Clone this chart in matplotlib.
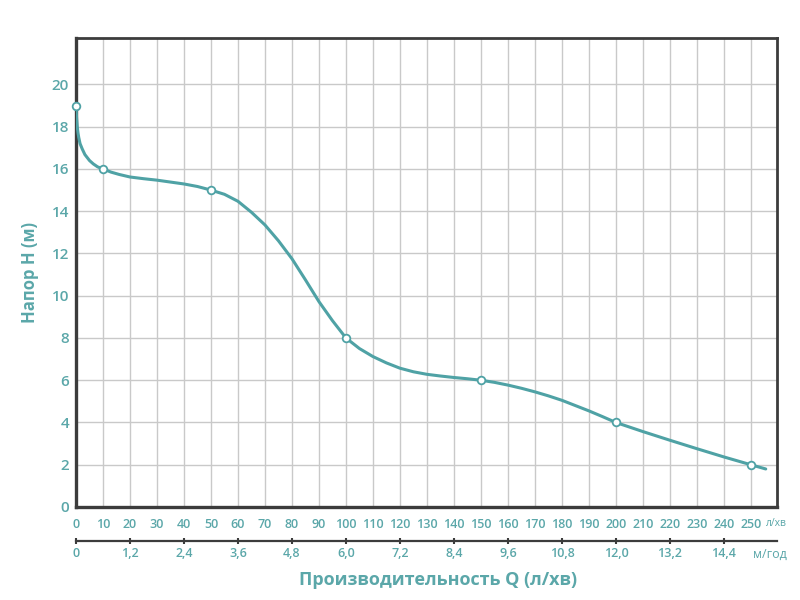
import numpy as np
import matplotlib.pyplot as plt

# ------------------------------
# data
# ------------------------------
# measured points (markers)
q_points = [0, 10, 50, 100, 150, 200, 250]
h_points = [19, 16, 15, 8, 6, 4, 2]

# points along the drawn curve
q_curve = [0, 0.1, 0.2, 0.35, 0.5, 0.75, 1, 1.5, 2.3, 3.3, 5, 6.4, 8, 10,
           13, 16, 20, 25, 30, 35, 40, 45, 50, 55, 60, 65, 70, 75, 80, 85,
           90, 95, 100, 105, 110, 115, 120, 125, 130, 135, 140, 145, 150,
           155, 160, 165, 170, 175, 180, 185, 190, 195, 200, 210, 220, 230,
           240, 250, 255.5]
h_curve = [19, 18.75, 18.45, 18.2, 17.95, 17.7, 17.5, 17.2, 16.95, 16.68,
           16.4, 16.24, 16.1, 16, 15.85, 15.74, 15.62, 15.54, 15.47, 15.38,
           15.29, 15.17, 15, 14.8, 14.47, 13.95, 13.35, 12.6, 11.75, 10.75,
           9.72, 8.82, 8, 7.5, 7.12, 6.82, 6.57, 6.4, 6.28, 6.2, 6.13, 6.07,
           6, 5.9, 5.77, 5.62, 5.45, 5.26, 5.05, 4.8, 4.55, 4.28, 4, 3.57,
           3.16, 2.76, 2.37, 2, 1.8]

q_ticks = list(range(0, 251, 10))
h_ticks = list(range(0, 21, 2))
m3_ticks = [0, 1.2, 2.4, 3.6, 4.8, 6.0, 7.2, 8.4, 9.6, 10.8, 12.0, 13.2, 14.4]
m3_labels = ['0', '1,2', '2,4', '3,6', '4,8', '6,0', '7,2', '8,4', '9,6',
             '10,8', '12,0', '13,2', '14,4']

teal = '#4fa2a5'
text_c = '#5ba7a9'
dark = '#3c3c3c'

plt.rcParams['font.family'] = ['Open Sans', 'DejaVu Sans']

fig = plt.figure(figsize=(8, 6), dpi=100)
ax = fig.add_axes([0.095, 0.155, 0.876, 0.7817])

ax.plot(q_curve, h_curve, color=teal, lw=2.2, zorder=3,
        solid_joinstyle='round', solid_capstyle='round')
ax.plot(q_points, h_points, 'o', ms=5.5, mfc='white', mec=teal, mew=1.3,
        zorder=4, clip_on=False)

ax.set_xlim(0, 259.6)
ax.set_ylim(0, 22.2)
ax.set_xticks(q_ticks)
ax.set_yticks(h_ticks)
ax.grid(True, color='#c9c9c9', lw=1)
ax.set_axisbelow(True)

ax.tick_params(axis='x', length=0, pad=8, labelsize=9, labelcolor=text_c)
ax.tick_params(axis='y', length=0, pad=5, labelsize=11, labelcolor=text_c)
for lbl in ax.get_xticklabels() + ax.get_yticklabels():
    lbl.set_fontweight('semibold')

for side in ['left', 'bottom']:
    ax.spines[side].set_color(dark)
    ax.spines[side].set_linewidth(2.4)
for side in ['top', 'right']:
    ax.spines[side].set_color(dark)
    ax.spines[side].set_linewidth(2)

ax.set_ylabel('Напор H (м)', color=text_c, fontsize=12, fontweight='bold',
              labelpad=9)

ax.text(1.0, -0.035, 'л/хв', transform=ax.transAxes, color=text_c,
        fontsize=7.5, ha='center', va='center')

# second scale in м/год
sec = ax.secondary_xaxis(-0.0725, functions=(lambda x: x * 0.06,
                                             lambda x: x / 0.06))
sec.set_xticks(m3_ticks)
sec.set_xticklabels(m3_labels)
sec.spines['bottom'].set_color(dark)
sec.spines['bottom'].set_linewidth(1.6)
sec.tick_params(axis='x', length=5, width=1.5, color=dark, direction='inout',
                pad=2, labelsize=9, labelcolor=text_c)
for lbl in sec.get_xticklabels():
    lbl.set_fontweight('semibold')

ax.text(0.99, -0.1, 'м/год', transform=ax.transAxes, color=text_c,
        fontsize=9, ha='center', va='center')

fig.text(0.548, 0.033, 'Производительность Q (л/хв)', color=text_c,
         fontsize=13, fontweight='bold', ha='center', va='center')

plt.savefig('out.png', dpi=100)
